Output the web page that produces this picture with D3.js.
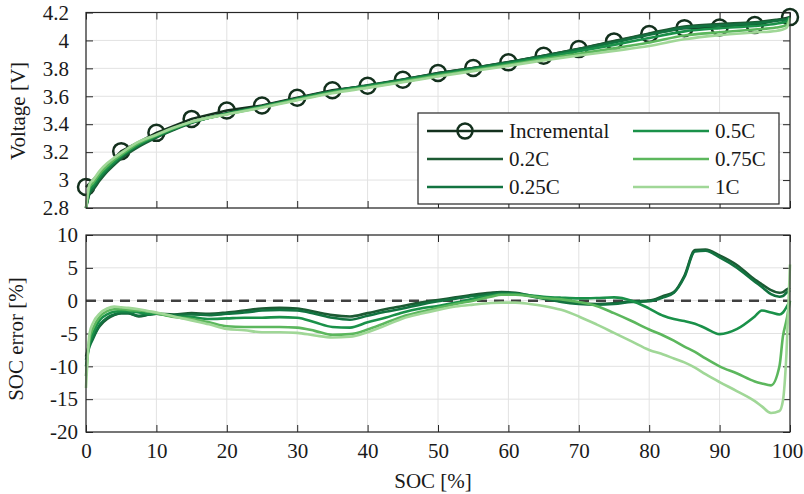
<!DOCTYPE html>
<html>
<head>
<meta charset="utf-8">
<script src="https://cdn.jsdelivr.net/npm/d3@7"></script>
<style>
    body { margin: 0; background: #fff; }
    svg text { font-family: "Liberation Serif", serif; font-size: 21px; fill: #1a1a1a; }
</style>
</head>
<body>
<div id="chart"></div>
<script>
// SOC grid of the voltage curves (charge tests at several C-rates)
var socV = [0, 0.5, 1, 2, 3, 4, 5, 7.5, 10, 12.5, 15, 20, 25, 30, 35, 40, 45, 50, 55, 60,
    65, 70, 75, 80, 85, 90, 95, 98, 99.5, 100];

var volt02 = [2.80, 2.90, 2.93, 3.00, 3.06, 3.11, 3.155, 3.24, 3.305, 3.36, 3.41, 3.478, 3.53, 3.585, 3.638, 3.678, 3.72, 3.765, 3.803, 3.845,
    3.89, 3.94, 3.995, 4.05, 4.10, 4.118, 4.13, 4.148, 4.155, 4.17];
var volt025 = [2.80, 2.91, 2.945, 3.015, 3.07, 3.12, 3.165, 3.248, 3.31, 3.365, 3.412, 3.476, 3.528, 3.583, 3.636, 3.676, 3.717, 3.762, 3.80, 3.842,
    3.886, 3.934, 3.985, 4.04, 4.09, 4.108, 4.122, 4.14, 4.15, 4.17];
var volt05 = [2.80, 2.93, 2.96, 3.03, 3.085, 3.13, 3.172, 3.255, 3.315, 3.368, 3.414, 3.474, 3.525, 3.58, 3.632, 3.671, 3.712, 3.756, 3.794, 3.835,
    3.878, 3.922, 3.968, 4.018, 4.065, 4.088, 4.103, 4.12, 4.135, 4.17];
var volt075 = [2.80, 2.95, 2.98, 3.05, 3.10, 3.145, 3.182, 3.265, 3.32, 3.372, 3.416, 3.472, 3.522, 3.576, 3.627, 3.665, 3.705, 3.748, 3.786, 3.826,
    3.866, 3.905, 3.943, 3.985, 4.035, 4.058, 4.078, 4.092, 4.11, 4.165];
var volt1 = [2.80, 2.97, 3.00, 3.07, 3.12, 3.16, 3.195, 3.275, 3.325, 3.376, 3.418, 3.47, 3.518, 3.572, 3.622, 3.66, 3.70, 3.742, 3.78, 3.818,
    3.857, 3.892, 3.925, 3.96, 4.008, 4.038, 4.057, 4.068, 4.09, 4.16];

// incremental OCV points
var socInc = [0, 5, 10, 15, 20, 25, 30, 35, 40, 45, 50, 55, 60, 65, 70, 75, 80, 85, 90, 95, 100];
var voltInc = [2.95, 3.207, 3.338, 3.438, 3.498, 3.534, 3.589, 3.643, 3.676, 3.719, 3.767, 3.803, 3.843, 3.89, 3.938, 3.993, 4.046, 4.088, 4.093, 4.11, 4.167];

// SOC estimation error
var socE = [0, 0.5, 1, 2, 3, 4, 5, 6, 7.5, 9, 10, 12.5, 15, 17.5, 20, 22.5, 25, 27.5, 30, 32.5,
    35, 37.5, 40, 42.5, 45, 47.5, 50, 52.5, 55, 57.5, 59, 61, 63, 65, 67.5, 70, 72.5, 75, 77.5, 80,
    82, 83.5, 85, 86.5, 88, 90, 92.5, 95, 96, 97.3, 98.5, 99, 99.5, 100];

var err02 = [-8.5, -6.5, -5.5, -3.8, -2.8, -2.2, -1.9, -1.9, -2.4, -2.1,
    -2.0, -2.1, -1.9, -2.0, -1.8, -1.5, -1.2, -1.1, -1.2, -1.7,
    -2.2, -2.4, -1.9, -1.3, -0.8, -0.3, 0.1, 0.5, 0.9, 1.2,
    1.3, 1.2, 0.8, 0.4, -0.1, -0.4, -0.5, -0.4, -0.1, 0.0,
    0.7, 1.3, 3.8, 7.7, 7.8, 6.9, 5.4, 3.2, 2.5, 1.6,
    1.2, 1.3, 1.7, 2.0];
var err025 = [-9.0, -7.0, -5.8, -3.6, -2.6, -2.1, -1.9, -1.9, -2.3, -2.1,
    -2.0, -2.2, -2.1, -2.2, -2.0, -1.8, -1.5, -1.4, -1.5, -2.0,
    -2.6, -2.9, -2.3, -1.7, -1.2, -0.6, -0.1, 0.3, 0.7, 1.0,
    1.2, 1.1, 0.7, 0.3, -0.2, -0.5, -0.6, -0.5, -0.2, -0.1,
    0.5, 1.2, 3.6, 7.5, 7.6, 6.6, 5.0, 2.9, 2.1, 1.0,
    0.6, 0.7, 1.2, 1.6];
var err05 = [-10.0, -6.5, -5.0, -2.9, -2.1, -1.7, -1.6, -1.6, -1.8, -2.0,
    -2.0, -2.4, -2.5, -2.8, -2.7, -2.6, -2.6, -2.5, -2.6, -3.3,
    -4.0, -4.1, -3.3, -2.6, -1.8, -1.2, -0.8, -0.3, 0.3, 0.8,
    1.0, 1.0, 0.8, 0.6, 0.45, 0.35, 0.4, 0.5, 0.0, -1.2,
    -2.3, -2.8, -3.1, -3.5, -4.2, -5.1, -4.3, -2.4, -1.5, -1.8,
    -2.1, -1.8, -1.0, 0.0];
var err075 = [-11.5, -5.8, -4.2, -2.4, -1.6, -1.3, -1.3, -1.4, -1.5, -1.7,
    -1.9, -2.5, -2.8, -3.3, -3.9, -4.0, -4.0, -4.0, -4.1, -4.6,
    -5.2, -5.1, -4.4, -3.4, -2.4, -1.7, -1.1, -0.5, 0.0, 0.6,
    0.9, 0.9, 0.7, 0.4, 0.2, -0.2, -0.8, -1.9, -3.1, -4.4,
    -5.3, -6.1, -7.0, -7.8, -8.8, -10.0, -11.1, -12.3, -12.6, -12.9,
    -10.0, -5.4, -3.0, 0.0];
var err1 = [-13.3, -5.0, -3.4, -1.9, -1.2, -0.9, -1.0, -1.1, -1.3, -1.6,
    -1.8, -2.4, -3.0, -3.6, -4.3, -4.5, -4.8, -4.8, -4.9, -5.3,
    -5.6, -5.5, -4.8, -3.8, -2.7, -2.0, -1.4, -0.9, -0.6, -0.35,
    -0.3, -0.3, -0.5, -0.8, -1.4, -2.4, -3.6, -4.9, -6.2, -7.5,
    -8.2, -8.8, -9.4, -10.2, -11.2, -12.4, -13.8, -15.3, -16.1, -17.1,
    -16.8, -15.2, -8.0, 5.5];

var rateNames = ["0.2C", "0.25C", "0.5C", "0.75C", "1C"];
var rateColors = ["#1c5a33", "#127340", "#1a9149", "#5cb75d", "#a0d797"];
var incColor = "#13301d";

var xTicks = [0, 10, 20, 30, 40, 50, 60, 70, 80, 90, 100];
var vTicks = [2.8, 3, 3.2, 3.4, 3.6, 3.8, 4, 4.2];
var eTicks = [-20, -15, -10, -5, 0, 5, 10];

var voltSeries = [volt02, volt025, volt05, volt075, volt1];
var errSeries = [err02, err025, err05, err075, err1];

var w = 804, h = 494;
var svg = d3.select("#chart").append("svg")
    .attr("width", w)
    .attr("height", h);

var x = d3.scaleLinear().domain([0, 100]).range([86, 790]);
var yV = d3.scaleLinear().domain([2.8, 4.2]).range([208, 12.5]);
var yE = d3.scaleLinear().domain([-20, 10]).range([432, 235]);

var fmt = function(d) { return String(+d.toFixed(2)); };

// grid, box and inward ticks on all four sides
function drawFrame(y, yTicks, labelPad, xLabels) {
    var y0 = y.range()[0], y1 = y.range()[1];
    var x0 = x.range()[0], x1 = x.range()[1];

    var grid = svg.append("g").attr("class", "grid");
    grid.selectAll("line.gx").data(xTicks).enter().append("line")
        .attr("x1", function(d) { return x(d); })
        .attr("x2", function(d) { return x(d); })
        .attr("y1", y0).attr("y2", y1)
        .attr("stroke", "#e2e2e2").attr("stroke-width", 1);
    grid.selectAll("line.gy").data(yTicks).enter().append("line")
        .attr("x1", x0).attr("x2", x1)
        .attr("y1", function(d) { return y(d); })
        .attr("y2", function(d) { return y(d); })
        .attr("stroke", "#e2e2e2").attr("stroke-width", 1);

    var axes = [];
    axes.push(svg.append("g").attr("transform", "translate(" + x0 + ",0)")
        .call(d3.axisLeft(y).tickValues(yTicks).tickFormat(fmt)
            .tickSizeInner(-7).tickSizeOuter(0).tickPadding(labelPad)));
    axes.push(svg.append("g").attr("transform", "translate(" + x1 + ",0)")
        .call(d3.axisRight(y).tickValues(yTicks).tickFormat("")
            .tickSizeInner(-7).tickSizeOuter(0)));
    axes.push(svg.append("g").attr("transform", "translate(0," + y1 + ")")
        .call(d3.axisTop(x).tickValues(xTicks).tickFormat("")
            .tickSizeInner(-7).tickSizeOuter(0)));
    var bottom = d3.axisBottom(x).tickValues(xTicks)
        .tickSizeInner(-7).tickSizeOuter(0).tickPadding(11);
    if (!xLabels) bottom.tickFormat("");
    var bAxis = svg.append("g").attr("transform", "translate(0," + y0 + ")")
        .call(bottom);
    axes.push(bAxis);

    axes.forEach(function(a) {
        a.attr("font-family", null).attr("font-size", null);
        a.select(".domain").remove();
        a.selectAll(".tick line").attr("stroke", "#262626").attr("stroke-width", 1);
        a.selectAll(".tick text").attr("fill", "#1a1a1a");
    });

    // keep the "100" label inside the page edge
    if (xLabels) {
        bAxis.selectAll(".tick text")
            .filter(function(d) { return d === 100; })
            .attr("dx", -3);
    }
}

function drawBox(y) {
    svg.append("rect")
        .attr("x", x.range()[0]).attr("y", y.range()[1])
        .attr("width", x.range()[1] - x.range()[0])
        .attr("height", y.range()[0] - y.range()[1])
        .attr("fill", "none")
        .attr("stroke", "#262626")
        .attr("stroke-width", 1.2);
}

// ---------- voltage panel ----------
drawFrame(yV, vTicks, 17, false);

var lineV = d3.line()
    .x(function(d) { return x(d[0]); })
    .y(function(d) { return yV(d[1]); })
    .curve(d3.curveMonotoneX);

var incPts = d3.zip(socInc, voltInc);
svg.append("path")
    .datum(incPts)
    .attr("d", d3.line().x(function(d) { return x(d[0]); }).y(function(d) { return yV(d[1]); }))
    .attr("fill", "none")
    .attr("stroke", incColor)
    .attr("stroke-width", 2.5);
svg.selectAll("circle.inc").data(incPts).enter().append("circle")
    .attr("class", "inc")
    .attr("cx", function(d) { return x(d[0]); })
    .attr("cy", function(d) { return yV(d[1]); })
    .attr("r", 8)
    .attr("fill", "none")
    .attr("stroke", incColor)
    .attr("stroke-width", 2.5);

voltSeries.forEach(function(vals, i) {
    svg.append("path")
        .datum(d3.zip(socV, vals))
        .attr("d", lineV)
        .attr("fill", "none")
        .attr("stroke", rateColors[i])
        .attr("stroke-width", 2.6)
        .attr("stroke-linejoin", "round");
});

drawBox(yV);

// legend, two columns
var legend = svg.append("g");
legend.append("rect")
    .attr("x", 418).attr("y", 113)
    .attr("width", 361).attr("height", 91)
    .attr("fill", "#fff")
    .attr("stroke", "#262626")
    .attr("stroke-width", 1.2);

var legendItems = [{ name: "Incremental", color: incColor, marker: true }];
rateNames.forEach(function(n, i) {
    legendItems.push({ name: n, color: rateColors[i], marker: false });
});

legendItems.forEach(function(d, i) {
    var col = Math.floor(i / 3), row = i % 3;
    var lx = col === 0 ? 427 : 633;
    var ly = 131 + row * 28;
    legend.append("line")
        .attr("x1", lx).attr("x2", lx + 76)
        .attr("y1", ly).attr("y2", ly)
        .attr("stroke", d.color)
        .attr("stroke-width", 2.6);
    if (d.marker) {
        legend.append("circle")
            .attr("cx", lx + 38).attr("cy", ly).attr("r", 7.5)
            .attr("fill", "none")
            .attr("stroke", d.color)
            .attr("stroke-width", 2.5);
    }
    legend.append("text")
        .attr("x", lx + 82).attr("y", ly + 7)
        .text(d.name);
});

svg.append("text")
    .attr("transform", "translate(25,111) rotate(-90)")
    .attr("text-anchor", "middle")
    .text("Voltage [V]");

// ---------- SOC error panel ----------
drawFrame(yE, eTicks, 8, true);

svg.append("line")
    .attr("x1", x(0)).attr("x2", x(100))
    .attr("y1", yE(0)).attr("y2", yE(0))
    .attr("stroke", "#404040")
    .attr("stroke-width", 2.5)
    .attr("stroke-dasharray", "10,7");

var lineE = d3.line()
    .x(function(d) { return x(d[0]); })
    .y(function(d) { return yE(d[1]); })
    .curve(d3.curveMonotoneX);

errSeries.forEach(function(vals, i) {
    svg.append("path")
        .datum(d3.zip(socE, vals))
        .attr("d", lineE)
        .attr("fill", "none")
        .attr("stroke", rateColors[i])
        .attr("stroke-width", 2.6)
        .attr("stroke-linejoin", "round");
});

drawBox(yE);

svg.append("text")
    .attr("transform", "translate(23,339) rotate(-90)")
    .attr("text-anchor", "middle")
    .text("SOC error [%]");

svg.append("text")
    .attr("x", 433).attr("y", 488)
    .attr("text-anchor", "middle")
    .text("SOC [%]");
</script>
</body>
</html>
